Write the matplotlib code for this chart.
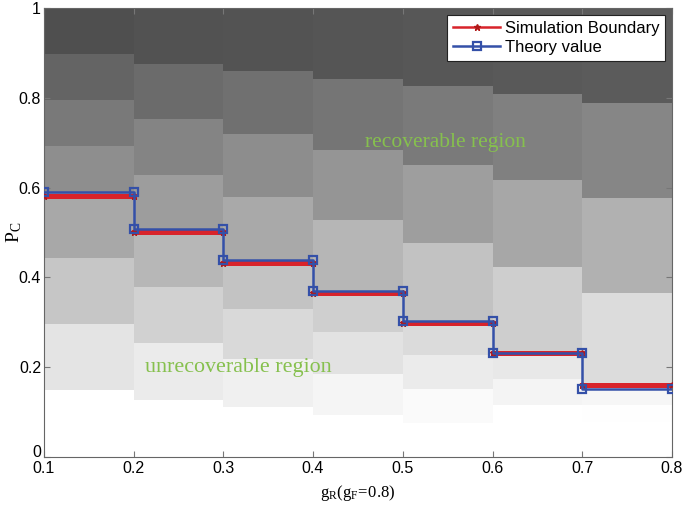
import numpy as np
import matplotlib
matplotlib.use("Agg")
import matplotlib.pyplot as plt
import matplotlib.transforms as mtransforms

plt.rcParams['font.family'] = ['Liberation Sans', 'DejaVu Sans']
plt.rcParams['mathtext.fontset'] = 'custom'
plt.rcParams['mathtext.rm'] = 'Liberation Serif'
plt.rcParams['mathtext.it'] = 'Liberation Serif'

# g_R columns
g_r = [0.1, 0.2, 0.3, 0.4, 0.5, 0.6, 0.7, 0.8]

# boundary
theory = [0.590, 0.507, 0.438, 0.370, 0.302, 0.231, 0.151]
simulation = [0.581, 0.502, 0.433, 0.366, 0.299, 0.231, 0.159]

# grey band edges of each column (bottom to top)
band_edges = [
    [0, 0.148, 0.295, 0.443, 0.590, 0.693, 0.795, 0.898, 1],
    [0, 0.126, 0.253, 0.379, 0.505, 0.629, 0.753, 0.876, 1],
    [0, 0.110, 0.219, 0.329, 0.438, 0.579, 0.719, 0.860, 1],
    [0, 0.093, 0.185, 0.278, 0.370, 0.528, 0.685, 0.843, 1],
    [0, 0.076, 0.151, 0.227, 0.302, 0.477, 0.651, 0.826, 1],
    [0, 0.058, 0.116, 0.174, 0.232, 0.424, 0.616, 0.808, 1],
    [0, 0.038, 0.077, 0.115, 0.153, 0.365, 0.576, 0.788, 1],
]

fig = plt.figure(figsize=(6.85, 5.11), dpi=100)
ax = fig.add_axes([0.064, 0.106, 0.917, 0.878])

for i, edges in enumerate(band_edges):
    e = np.array(edges)
    mids = (e[:-1] + e[1:]) / 2
    ax.pcolormesh([g_r[i], g_r[i + 1]], e, mids.reshape(-1, 1),
                  cmap='gray_r', vmin=0.087, vmax=1.34, shading='flat')

# simulation: flat pieces only, theory: full staircase
for i in range(len(simulation)):
    ax.plot([g_r[i], g_r[i + 1]], [simulation[i], simulation[i]],
            color='#d8232a', lw=3.6, marker='*', ms=5, mfc='#b01818',
            mec='#b01818', label='Simulation Boundary' if i == 0 else None,
            zorder=3)

xs = np.repeat(g_r, 2)[1:-1]
ys_th = np.repeat(theory, 2)
ax.plot(xs, ys_th, color='#3450a8', lw=1.8, marker='s', ms=6,
        mfc='none', mew=1.6, label='Theory value', zorder=4)

ax.text(0.458, 0.70, 'recoverable region', color='#86c04e',
        fontsize=15.5, family='Liberation Serif', va='center')
ax.text(0.213, 0.198, 'unrecoverable region', color='#86c04e',
        fontsize=15.8, family='Liberation Serif', va='center')

ax.set_xlim(0.1, 0.8)
ax.set_ylim(0, 1)
ax.set_xticks(g_r)
ax.set_xticklabels(['0.1', '0.2', '0.3', '0.4', '0.5', '0.6', '0.7', '0.8'])
ax.set_yticks([0, 0.2, 0.4, 0.6, 0.8, 1])
ax.set_yticklabels(['0', '0.2', '0.4', '0.6', '0.8', '1'])
ax.tick_params(direction='in', top=True, right=True, labelsize=11.5,
               length=4, color='#777777', pad=2)
ax.tick_params(axis='x', pad=3)
for s in ax.spines.values():
    s.set_color('#666666')
    s.set_linewidth(0.8)

# lift the "0" a little so it sits just above "0.1", as in the original
zero = ax.get_yticklabels()[0]
zero.set_transform(zero.get_transform() +
                   mtransforms.ScaledTranslation(0, 4 / 72, fig.dpi_scale_trans))

ax.set_xlabel(r'$\mathrm{g_R(g_F\!=\!0.8)}$', fontsize=12, labelpad=5)
ax.set_ylabel(r'$\mathrm{P_C}$', fontsize=14)
ax.yaxis.set_label_coords(-0.031, 0.5)

leg = ax.legend(loc='upper right', fontsize=12, fancybox=False,
                framealpha=1, edgecolor='#222222', borderpad=0.35,
                handlelength=2.8, handletextpad=0.3, labelspacing=0.25,
                borderaxespad=0.4)
leg.get_frame().set_linewidth(0.8)
for h in leg.get_lines():
    h.set_linewidth(1.8)

fig.savefig('out.png', dpi=100)
